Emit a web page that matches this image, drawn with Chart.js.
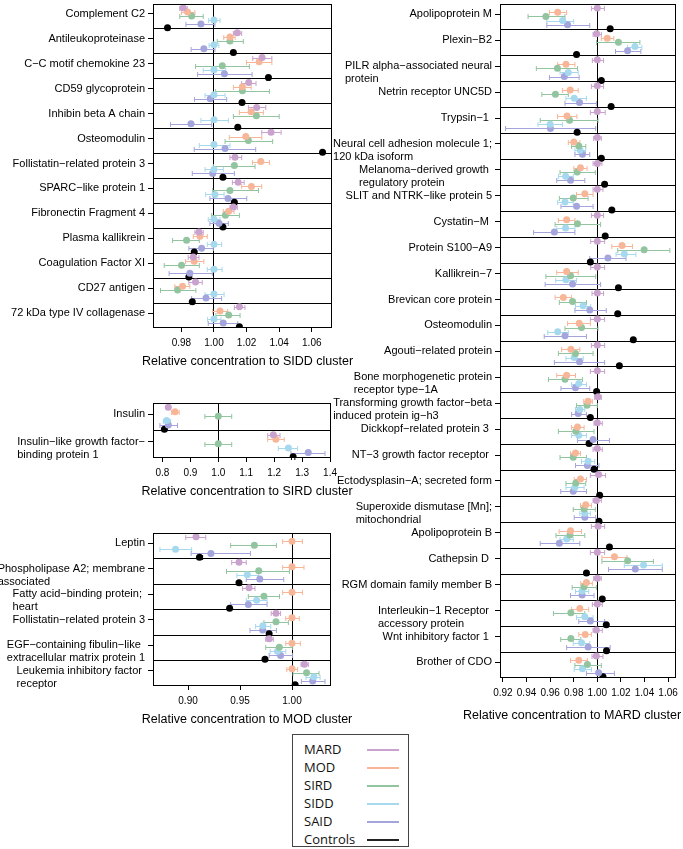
<!DOCTYPE html>
<html>
<head>
<meta charset="utf-8">
<script src="https://cdn.jsdelivr.net/npm/chart.js@4.4.1/dist/chart.umd.min.js"></script>
<style>
  body { margin: 0; background: #fff; }
  #wrap { position: relative; width: 683px; height: 849px; overflow: hidden; }
  #wrap canvas { position: absolute; }
  #legend {
    position: absolute; left: 292px; top: 734px; width: 117px; height: 113px;
    box-sizing: border-box; border: 1px solid #444; padding-top: 5px;
    font-family: "Open Sans", Lato, sans-serif; font-size: 13px; color: #111;
  }
  #legend .item { position: relative; height: 18px; line-height: 18px; padding-left: 11px; }
  #legend .swatch { position: absolute; left: 74px; top: 9px; width: 32px; height: 1.5px; }
</style>
</head>
<body>
<div id="wrap">
  <canvas id="siddChart" width="400" height="372" style="left:0;top:0"></canvas>
  <canvas id="sirdChart" width="400" height="110" style="left:0;top:395px"></canvas>
  <canvas id="modChart" width="400" height="205" style="left:0;top:525px"></canvas>
  <canvas id="mardChart" width="353" height="730" style="left:330px;top:0"></canvas>
  <div id="legend"></div>
</div>
<script>
// ===========================
// SERIES
// ===========================
const seriesNames = ["MARD", "MOD", "SIRD", "SIDD", "SAID", "Controls"];
const seriesColors = ["#c9a2cd", "#f7b698", "#92c49f", "#a6d9ee", "#a3a5dc", "#000000"];

// ===========================
// SIDD PANEL  [mean, lo, hi]
// ===========================
const siddProteins = ["Complement C2", "Antileukoproteinase", "C\u2212C motif chemokine 23", "CD59 glycoprotein",
  "Inhibin beta A chain", "Osteomodulin", "Follistatin\u2212related protein 3", "SPARC\u2212like protein 1",
  "Fibronectin Fragment 4", "Plasma kallikrein", "Coagulation Factor XI", "CD27 antigen", "72 kDa type IV collagenase"];
const siddTicks = [0.98, 1.00, 1.02, 1.04, 1.06];
const siddMARD = [[0.9811,0.979,0.9836],[1.0143,1.0119,1.017],[1.0295,1.0238,1.0355],[1.0213,1.017,1.0258],[1.0262,1.0211,1.0318],[1.035,1.0293,1.0412],[1.0129,1.0098,1.017],[1.0148,1.0113,1.0185],[1.0119,1.0098,1.0143],[0.9908,0.9883,0.9934],[0.9873,0.9842,0.9908],[0.9887,0.9846,0.9928],[1.0156,1.0125,1.019]];
const siddMOD = [[0.9838,0.980,0.9883],[1.0098,1.006,1.013],[1.0277,1.020,1.0355],[1.0174,1.0119,1.0228],[1.0228,1.0156,1.0303],[1.0195,1.0094,1.0293],[1.0287,1.0236,1.034],[1.023,1.017,1.0293],[1.009,1.0057,1.0123],[0.9914,0.9873,0.9959],[0.9879,0.9826,0.9938],[0.9807,0.976,0.9852],[1.0037,0.9992,1.0084]];
const siddSIRD = [[0.9863,0.979,0.9934],[1.0098,1.002,1.018],[1.0051,0.9887,1.0217],[1.0174,1.001,1.034],[1.026,1.0119,1.040],[1.0211,1.0068,1.036],[1.0125,0.9996,1.0252],[1.0098,0.9992,1.0273],[1.007,0.9986,1.0156],[0.9832,0.9746,0.991],[0.9801,0.9695,0.991],[0.9777,0.9672,0.9889],[1.009,1.0012,1.016]];
const siddSIDD = [[1,0.9967,1.0037],[1,0.997,1.003],[1,0.9934,1.0072],[1,0.9945,1.0068],[1,0.992,1.0088],[1,0.991,1.0098],[1,0.9945,1.0057],[1.0006,0.9949,1.0062],[1,0.9965,1.0037],[1,0.9959,1.0047],[1,0.9959,1.005],[1,0.9945,1.0062],[1,0.9961,1.0043]];
const siddSAID = [[0.992,0.9828,1.0006],[0.9938,0.986,1.0006],[1.0064,0.990,1.0234],[0.9977,0.988,1.0078],[0.9859,0.9733,0.9986],[1.0068,0.9879,1.0256],[0.9992,0.9867,1.0125],[1.0086,0.9975,1.0201],[1.0031,0.9975,1.0088],[0.9924,0.9846,0.9996],[0.9852,0.9725,0.999],[0.9951,0.9863,1.0047],[1.0057,0.9965,1.0146]];
const siddCtrl = [[0.9715],[1.0119],[1.0334,1.0326,1.0342],[1.0172],[1.0146,1.0138,1.0154],[1.0666,1.0656,1.0676],[1.0055],[1.0125],[1.0055],[0.9879],[0.9846],[0.9867],[1.0156]];

// ===========================
// SIRD PANEL
// ===========================
const sirdProteins = ["Insulin", ["Insulin\u2212like growth factor\u2212", "binding protein 1"]];
const sirdTicks = [0.8, 0.9, 1.0, 1.1, 1.2, 1.3, 1.4];
const sirdMARD = [[0.821,0.814,0.828],[1.197,1.177,1.221]];
const sirdMOD = [[0.845,0.833,0.860],[1.206,1.177,1.236]];
const sirdSIRD = [[1,0.952,1.048],[1,0.952,1.048]];
const sirdSIDD = [[0.815,0.803,0.829],[1.251,1.215,1.284]];
const sirdSAID = [[0.821,0.791,0.854],[1.322,1.26,1.382]];
const sirdCtrl = [[0.807],[1.268,1.262,1.274]];

// ===========================
// MOD PANEL
// ===========================
const modProteins = ["Leptin", ["Phospholipase A2; membrane", "associated"], ["Fatty acid\u2212binding protein; ", "heart"],
  "Follistatin\u2212related protein 3", ["EGF\u2212containing fibulin\u2212like ", "extracellular matrix protein 1"],
  ["Leukemia inhibitory factor ", "receptor"]];
const modTicks = [0.90, 0.95, 1.00];
const modMARD = [[0.9077,0.8978,0.917],[0.949,0.942,0.956],[0.9587,0.9525,0.9644],[0.9846,0.980,0.989],[0.978,0.9747,0.982],[1.0119,1.0087,1.0157]];
const modMOD = [[1,0.991,1.010],[1,0.991,1.0115],[1,0.991,1.01],[1,0.994,1.007],[1,0.994,1.008],[1,0.995,1.0054]];
const modSIRD = [[0.9638,0.941,0.985],[0.968,0.937,0.9975],[0.973,0.958,0.988],[0.9846,0.973,0.9965],[0.9878,0.9747,1.0006],[1.014,1.001,1.026]];
const modSIDD = [[0.888,0.873,0.9035],[0.957,0.947,0.968],[0.966,0.956,0.976],[0.972,0.965,0.9795],[0.986,0.979,0.994],[1.021,1.0135,1.027]];
const modSAID = [[0.922,0.903,0.960],[0.969,0.956,0.992],[0.958,0.941,0.976],[0.9718,0.9596,0.985],[0.989,0.978,1.0006],[1.0199,1.009,1.0317]];
const modCtrl = [[0.911,0.909,0.914],[0.949,0.948,0.951],[0.940],[0.978],[0.974],[1.003]];

// ===========================
// MARD PANEL
// ===========================
const mardProteins = ["Apolipoprotein M", "Plexin\u2212B2", ["PILR alpha\u2212associated neural", "protein"],
  "Netrin receptor UNC5D", "Trypsin\u22121 ", ["Neural cell adhesion molecule 1;", "120 kDa isoform"],
  ["Melanoma\u2212derived growth ", "regulatory protein"], "SLIT and NTRK\u2212like protein 5", "Cystatin\u2212M ",
  "Protein S100\u2212A9", "Kallikrein\u22127", "Brevican core protein", "Osteomodulin", "Agouti\u2212related protein",
  ["Bone morphogenetic protein", "receptor type\u22121A"], ["Transforming growth factor\u2212beta", "induced protein ig\u2212h3"],
  "Dickkopf\u2212related protein 3 ", "NT\u22123 growth factor receptor ", "Ectodysplasin\u2212A; secreted form",
  ["Superoxide dismutase [Mn];", "mitochondrial"], "Apolipoprotein B", "Cathepsin D ", "RGM domain family member B",
  ["Interleukin\u22121 Receptor ", "accessory protein"], "Wnt inhibitory factor 1 ", "Brother of CDO"];
const mardTicks = [0.92, 0.94, 0.96, 0.98, 1.00, 1.02, 1.04, 1.06];
const mardMARD = [[1,0.995,1.006],[0.9994,0.9964,1.0034],[1,0.9958,1.0053],[1,0.995,1.0053],[1,0.9941,1.0067],[1,0.9969,1.0034],[1,0.9964,1.0039],[1,0.9964,1.0048],[1,0.995,1.0053],[1,0.9944,1.0062],[1,0.9944,1.0062],[1,0.9955,1.0053],[1,0.9941,1.0062],[1,0.995,1.0062],[1,0.9941,1.0062],[1.0006,0.9978,1.0034],[1,0.9972,1.0042],[1,0.9964,1.0042],[1.0011,0.9941,1.007],[0.9992,0.9964,1.0034],[1.0006,0.995,1.0062],[1,0.9941,1.0062],[1,0.9969,1.0034],[1,0.9958,1.0042],[0.9992,0.9964,1.0042],[0.9992,0.9955,1.0048]];
const mardMOD = [[0.9664,0.9594,0.974],[1.0084,1.0034,1.014],[0.9734,0.9664,0.981],[0.977,0.9704,0.9838],[0.9743,0.9662,0.9827],[0.9801,0.9754,0.9852],[0.9857,0.9801,0.9913],[0.9894,0.9824,0.9964],[0.974,0.967,0.981],[1.021,1.0123,1.0299],[0.974,0.9656,0.9838],[0.9712,0.9642,0.9782],[0.9846,0.9748,0.9941],[0.9776,0.9698,0.9852],[0.974,0.9656,0.9815],[0.9922,0.9885,0.9958],[0.9832,0.9782,0.9888],[0.9815,0.9773,0.9857],[0.9857,0.9804,0.9908],[0.9902,0.9857,0.995],[0.9773,0.9676,0.9866],[1.0145,1.0039,1.0252],[0.9908,0.986,0.9958],[0.9852,0.9782,0.9927],[0.9897,0.9843,0.995],[0.9843,0.9773,0.9916]];
const mardSIRD = [[0.9564,0.9413,0.9726],[1.0179,0.9994,1.0361],[0.9662,0.9483,0.9832],[0.9645,0.953,0.9754],[0.9765,0.9516,1.0006],[0.9843,0.9782,0.9902],[0.9829,0.9684,0.9983],[0.9796,0.9678,0.9922],[0.9832,0.9642,1.0028],[1.0397,1.0173,1.0615],[0.9773,0.9564,0.9986],[0.979,0.9678,0.9908],[0.9866,0.9726,1.0006],[0.9815,0.967,0.9964],[0.9726,0.9586,0.9874],[0.9913,0.9824,1.0],[0.9818,0.967,0.9972],[0.9796,0.9684,0.9908],[0.9818,0.9734,0.9902],[0.9888,0.9796,0.9983],[0.9768,0.965,0.9894],[1.0257,1.0039,1.0475],[0.9888,0.9787,0.9992],[0.9776,0.9628,0.9894],[0.9776,0.969,0.986],[0.9916,0.981,1.0034]];
const mardSIDD = [[0.9706,0.9572,0.980],[1.0319,1.0257,1.0378],[0.9754,0.9684,0.9838],[0.9804,0.9734,0.9908],[0.960,0.9497,0.9704],[0.9855,0.981,0.990],[0.9731,0.967,0.9796],[0.9726,0.9664,0.9796],[0.9731,0.9656,0.981],[1.0229,1.0159,1.0327],[0.9734,0.9648,0.9824],[0.988,0.9815,0.9944],[0.9664,0.958,0.9754],[0.9804,0.9734,0.988],[0.9843,0.9782,0.9908],[0.9852,0.9815,0.9894],[0.9843,0.9782,0.9908],[0.9922,0.9866,0.9978],[0.981,0.9734,0.9888],[0.9894,0.9852,0.9941],[0.974,0.9684,0.9796],[1.0392,1.0229,1.0551],[0.9871,0.9815,0.9927],[0.9894,0.9824,0.9964],[0.9866,0.9796,0.9936],[0.9874,0.9804,0.995]];
const mardSAID = [[0.9748,0.9572,0.9936],[1.0257,1.0154,1.0369],[0.972,0.9594,0.9846],[0.9849,0.9726,0.9992],[0.9603,0.9222,0.9986],[0.9874,0.981,0.9936],[0.9773,0.9656,0.9894],[0.9824,0.9692,0.9964],[0.9636,0.946,0.981],[1.009,0.9936,1.0243],[0.979,0.9558,1.0028],[0.9936,0.981,1.0076],[0.9726,0.955,0.9908],[0.9849,0.9636,1.0062],[0.9815,0.9692,0.9936],[0.9838,0.9782,0.9908],[0.9964,0.9832,1.0103],[0.9916,0.9815,1.0014],[0.9796,0.969,0.9908],[0.9894,0.9804,0.9986],[0.9678,0.9516,0.9852],[1.0322,1.0095,1.0551],[0.9871,0.9773,0.9972],[0.9941,0.9843,1.0062],[0.9922,0.974,1.0109],[1.0011,0.9908,1.0145]];
const mardCtrl = [[1.0109],[0.9824],[1.0034],[1.0117],[0.9829],[1.0034],[1.0062],[1.0123],[1.0067],[0.9941,0.9932,0.995],[1.0179,1.017,1.0188],[1.0173,1.0165,1.0181],[1.0305,1.0296,1.0314],[1.0187,1.0178,1.0196],[0.9994,0.9985,1.0003],[0.9941],[0.993],[0.9972,0.9964,0.998],[1.002],[1.0014],[1.0103,1.0094,1.0112],[0.9908,0.9894,0.9922],[1.0042],[1.0076],[1.0078],[1.0048]];

// ===========================
// DRAWING HELPERS
// ===========================
Chart.defaults.font.family = '"Liberation Sans", Arial, sans-serif';
Chart.defaults.color = "#000";

const rowOffsets = [0.15, 0.32, 0.48, 0.64, 0.8, 0.95];   // position of each group inside a row
const labelPos = 0.4;

// error bars under points, frame, row labels and axis title on top
const forestPlugin = {
    id: "forest",
    beforeDatasetsDraw(chart) {
        const { ctx, scales: { x, y } } = chart;
        ctx.save();
        ctx.lineWidth = 1;
        chart.data.datasets.forEach(ds => {
            ctx.strokeStyle = ds.backgroundColor;
            ds.data.forEach(p => {
                if (p.lo == null) return;
                const x1 = x.getPixelForValue(p.lo), x2 = x.getPixelForValue(p.hi);
                const py = Math.round(y.getPixelForValue(p.y)) + 0.5;
                ctx.beginPath();
                ctx.moveTo(x1, py); ctx.lineTo(x2, py);
                ctx.moveTo(x1, py - 2.5); ctx.lineTo(x1, py + 2.5);
                ctx.moveTo(x2, py - 2.5); ctx.lineTo(x2, py + 2.5);
                ctx.stroke();
            });
        });
        ctx.restore();
    },
    afterDraw(chart, args, opts) {
        const { ctx, chartArea: a, scales: { y } } = chart;
        ctx.save();
        ctx.strokeStyle = "#000";
        ctx.lineWidth = 1;
        ctx.strokeRect(Math.round(a.left) + 0.5, Math.round(a.top) + 0.5,
            Math.round(a.right - a.left) - 1, Math.round(a.bottom - a.top) - 1);

        ctx.fillStyle = "#000";
        ctx.font = '11px "Liberation Sans", Arial, sans-serif';
        ctx.textBaseline = "middle";
        ctx.textAlign = "left";
        opts.rows.forEach((lab, i) => {
            const lines = Array.isArray(lab) ? lab : [lab];
            const w = Math.max(...lines.map(t => ctx.measureText(t).width));
            const yc = y.getPixelForValue(i + labelPos);
            lines.forEach((t, j) => ctx.fillText(t, a.left - 8 - w, yc + j * 13));
        });

        ctx.font = '12.5px "Liberation Sans", Arial, sans-serif';
        ctx.textAlign = "center";
        ctx.fillText(opts.title, (a.left + a.right) / 2 + opts.titleShift, a.bottom + opts.titleGap);
        ctx.restore();
    }
};

function isOne(v) { return Math.abs(v - 1) < 1e-9; }

function makePanel(id, rows, groups, xMin, xMax, xTicks, decimals, title, box) {
    const n = rows.length;
    const datasets = groups.map((vals, k) => ({
        label: seriesNames[k],
        backgroundColor: seriesColors[k],
        pointRadius: 3.5,
        pointBorderWidth: 0,
        data: vals.map((v, i) => ({ x: v[0], y: i + rowOffsets[k], lo: v[1], hi: v[2] }))
    }));

    return new Chart(document.getElementById(id), {
        type: "scatter",
        data: { datasets },
        plugins: [forestPlugin],
        options: {
            responsive: false,
            animation: false,
            devicePixelRatio: 1,
            layout: { padding: { top: box.padTop, right: box.padRight, left: 0, bottom: 0 } },
            plugins: {
                legend: { display: false },
                tooltip: { enabled: false },
                forest: { rows, title, titleShift: box.titleShift, titleGap: box.titleGap }
            },
            scales: {
                x: {
                    type: "linear",
                    position: "bottom",
                    min: xMin,
                    max: xMax,
                    z: 1,
                    afterBuildTicks: s => { s.ticks = xTicks.map(v => ({ value: v })); },
                    afterFit: s => { s.height = box.xHeight; },
                    border: { display: false },
                    grid: {
                        color: c => isOne(c.tick.value) ? "#000" : "rgba(0,0,0,0)",
                        tickColor: "#000",
                        tickLength: 4,
                        lineWidth: 1
                    },
                    ticks: {
                        autoSkip: false,
                        maxRotation: 0,
                        padding: 5,
                        font: { size: 10 },
                        callback: v => v.toFixed(decimals)
                    }
                },
                y: {
                    type: "linear",
                    min: 0,
                    max: n,
                    reverse: true,
                    afterBuildTicks: s => {
                        const t = [];
                        for (let i = 0; i < n; i++) {
                            t.push({ value: i + labelPos });
                            if (i > 0) t.push({ value: i });
                        }
                        t.sort((a, b) => a.value - b.value);
                        s.ticks = t;
                    },
                    afterFit: s => { s.width = box.yWidth; },
                    border: { display: false },
                    grid: {
                        color: c => Number.isInteger(c.tick.value) ? "#000" : "rgba(0,0,0,0)",
                        tickColor: c => Number.isInteger(c.tick.value) ? "rgba(0,0,0,0)" : "#000",
                        tickLength: 5,
                        lineWidth: 1
                    },
                    ticks: { display: false, autoSkip: false }
                }
            }
        }
    });
}

// ===========================
// PANELS
// ===========================
makePanel("siddChart", siddProteins, [siddMARD, siddMOD, siddSIRD, siddSIDD, siddSAID, siddCtrl],
    0.9626, 1.0724, siddTicks, 2, "Relative concentration to SIDD cluster",
    { padTop: 1, padRight: 68, yWidth: 153, xHeight: 44, titleGap: 34, titleShift: 5 });

makePanel("sirdChart", sirdProteins, [sirdMARD, sirdMOD, sirdSIRD, sirdSIDD, sirdSAID, sirdCtrl],
    0.7662, 1.4035, sirdTicks, 1, "Relative concentration to SIRD cluster",
    { padTop: 8, padRight: 69, yWidth: 153, xHeight: 47, titleGap: 34, titleShift: 5 });

makePanel("modChart", modProteins, [modMARD, modMOD, modSIRD, modSIDD, modSAID, modCtrl],
    0.8663, 1.0375, modTicks, 2, "Relative concentration to MOD cluster",
    { padTop: 8, padRight: 69, yWidth: 153, xHeight: 44, titleGap: 34, titleShift: 5 });

makePanel("mardChart", mardProteins, [mardMARD, mardMOD, mardSIRD, mardSIDD, mardSAID, mardCtrl],
    0.9175, 1.0667, mardTicks, 2, "Relative concentration to MARD cluster",
    { padTop: 3, padRight: 3, yWidth: 170, xHeight: 52, titleGap: 38, titleShift: -16 });

// ===========================
// LEGEND
// ===========================
const legendEl = document.getElementById("legend");
seriesNames.forEach((name, k) => {
    const item = document.createElement("div");
    item.className = "item";
    item.textContent = name;
    const sw = document.createElement("span");
    sw.className = "swatch";
    sw.style.background = k === 5 ? "#222" : seriesColors[k];
    if (k === 5) sw.style.height = "2px";
    item.appendChild(sw);
    legendEl.appendChild(item);
});
</script>
</body>
</html>
